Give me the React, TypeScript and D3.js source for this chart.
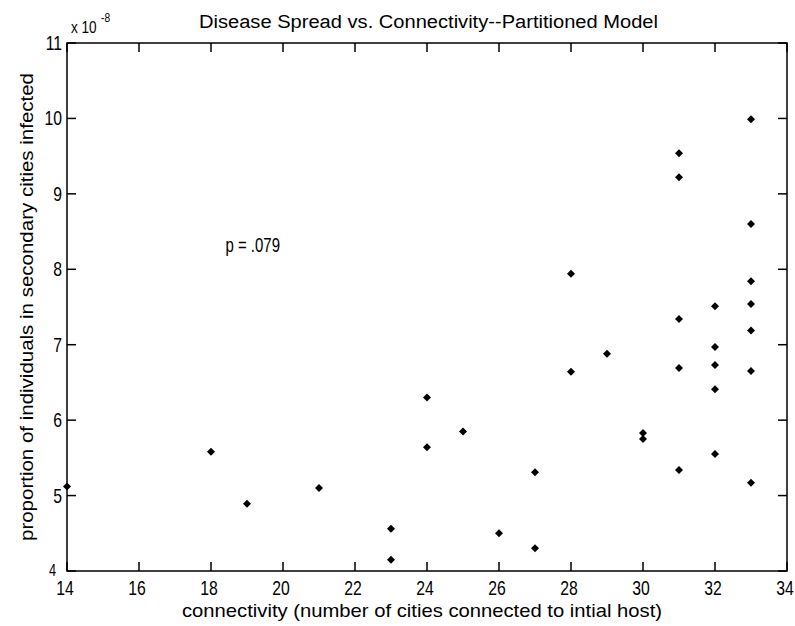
import React, { useEffect, useRef } from "react";
import * as d3 from "d3";

// Scatter of disease spread vs. connectivity (MATLAB-style figure), drawn with D3.
const connectivity = [
  14, 18, 19, 21, 23, 23, 24, 24, 25, 26, 27, 27, 28, 28, 29, 30, 30,
  31, 31, 31, 31, 31, 32, 32, 32, 32, 32, 33, 33, 33, 33, 33, 33, 33,
];
const infected = [
  5.12, 5.58, 4.89, 5.1, 4.56, 4.15, 6.3, 5.64, 5.85, 4.5, 4.3, 5.31, 6.64, 7.94, 6.88, 5.83, 5.75,
  9.54, 9.22, 7.34, 6.69, 5.34, 7.51, 6.97, 6.73, 6.41, 5.55, 9.99, 8.6, 7.84, 7.54, 7.19, 6.65, 5.17,
];
const xTicks = [14, 16, 18, 20, 22, 24, 26, 28, 30, 32, 34];
const yTicks = [4, 5, 6, 7, 8, 9, 10, 11];
const title = "Disease Spread vs. Connectivity--Partitioned Model";
const xLabel = "connectivity (number of cities connected to intial host)";
const yLabel = "proportion of individuals in secondary cities infected";
const note = { x: 18.4, y: 8.23, text: "p = .079" };

export default function App() {
  const ref = useRef<HTMLDivElement>(null);

  useEffect(() => {
    document.body.style.margin = "0";
    const el = ref.current;
    if (!el) return;
    el.innerHTML = "";

    const W = 795;
    const H = 626;
    const left = 67, right = 787, top = 43, bottom = 571;
    const font = "'Liberation Sans', Arial, sans-serif";

    const svg = d3
      .select(el)
      .append("svg")
      .attr("width", W)
      .attr("height", H)
      .style("display", "block")
      .style("background", "#fff");

    const x = d3.scaleLinear().domain([14, 34]).range([left, right]);
    const y = d3.scaleLinear().domain([4, 11]).range([bottom, top]);

    // frame
    svg
      .append("rect")
      .attr("x", left)
      .attr("y", top)
      .attr("width", right - left)
      .attr("height", bottom - top)
      .attr("fill", "none")
      .attr("stroke", "#000")
      .attr("stroke-width", 1.5);

    const tl = 9;
    const g = svg.append("g").attr("stroke", "#000").attr("stroke-width", 1.5);
    xTicks.forEach((t) => {
      g.append("line").attr("x1", x(t)).attr("x2", x(t)).attr("y1", bottom).attr("y2", bottom - tl);
      g.append("line").attr("x1", x(t)).attr("x2", x(t)).attr("y1", top).attr("y2", top + tl);
    });
    yTicks.forEach((t) => {
      g.append("line").attr("x1", left).attr("x2", left + tl).attr("y1", y(t)).attr("y2", y(t));
      g.append("line").attr("x1", right).attr("x2", right - tl).attr("y1", y(t)).attr("y2", y(t));
    });

    const narrow = (px: number, py: number, s: number) => `translate(${px},${py}) scale(${s},1)`;

    // tick labels
    svg
      .selectAll(".xt")
      .data(xTicks)
      .join("text")
      .attr("transform", (d) => narrow(x(d) - 2, 595, 0.75))
      .attr("text-anchor", "middle")
      .attr("font-family", font)
      .attr("font-size", 21)
      .text((d) => d);

    svg
      .selectAll(".yt")
      .data(yTicks)
      .join("text")
      .attr("transform", (d) =>
        d === 4 ? narrow(56, y(d) + 5, 0.75) : narrow(62, y(d) + 7, 0.75)
      )
      .attr("text-anchor", "end")
      .attr("font-family", font)
      .attr("font-size", (d) => (d === 4 ? 17 : 21))
      .text((d) => d);

    // exponent
    svg
      .append("text")
      .attr("transform", narrow(71, 33, 0.8))
      .attr("font-family", font)
      .attr("font-size", 17)
      .text("x 10");
    svg
      .append("text")
      .attr("transform", narrow(101, 22, 0.85))
      .attr("font-family", font)
      .attr("font-size", 12)
      .text("-8");

    // title and labels
    svg
      .append("text")
      .attr("x", 199)
      .attr("y", 28)
      .attr("font-family", font)
      .attr("font-size", 18)
      .attr("textLength", 459)
      .attr("lengthAdjust", "spacingAndGlyphs")
      .text(title);

    svg
      .append("text")
      .attr("x", 182)
      .attr("y", 617)
      .attr("font-family", font)
      .attr("font-size", 19)
      .attr("textLength", 480)
      .attr("lengthAdjust", "spacingAndGlyphs")
      .text(xLabel);

    svg
      .append("text")
      .attr("transform", `translate(33,541) rotate(-90)`)
      .attr("font-family", font)
      .attr("font-size", 19)
      .attr("textLength", 468)
      .attr("lengthAdjust", "spacingAndGlyphs")
      .text(yLabel);

    svg
      .append("text")
      .attr("transform", narrow(x(note.x), y(note.y), 0.75))
      .attr("font-family", font)
      .attr("font-size", 20)
      .text(note.text);

    // points
    const sym = d3.symbol(d3.symbolSquare, 32);
    svg
      .selectAll(".pt")
      .data(connectivity.map((c, i) => [c, infected[i]]))
      .join("path")
      .attr("d", sym)
      .attr("transform", (d) => `translate(${x(d[0])},${y(d[1])}) rotate(45)`)
      .attr("fill", "#000");
  }, []);

  return <div ref={ref} />;
}
